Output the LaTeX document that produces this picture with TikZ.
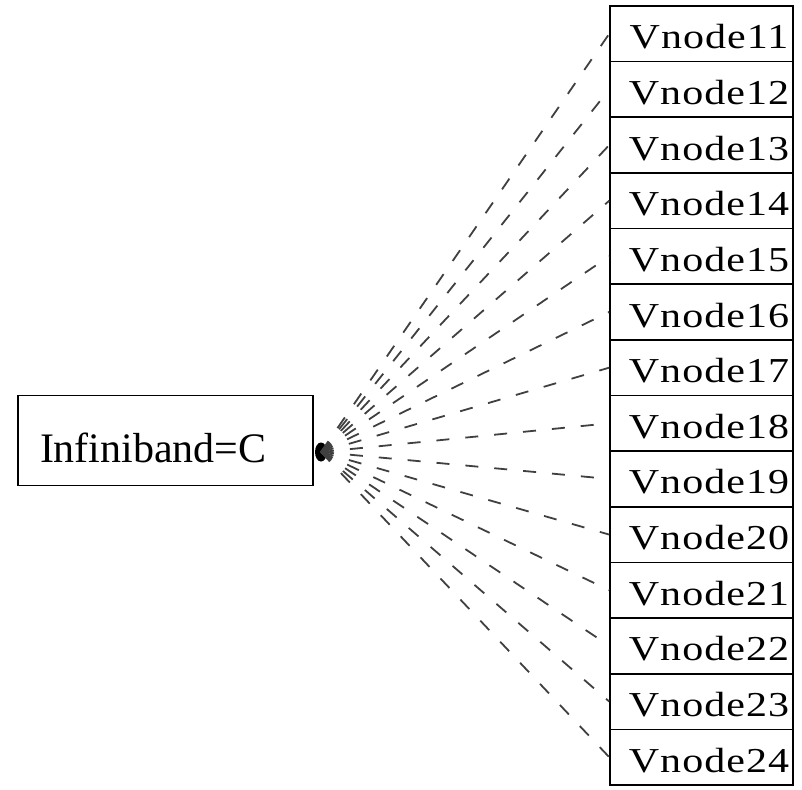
\documentclass[tikz,border=0pt]{standalone}
\usepackage{fontspec}
\setmainfont{Liberation Serif}
\newfontfamily\vnodefont[FakeStretch=1.2, LetterSpace=3]{Liberation Serif}
\usetikzlibrary{shapes, arrows.meta, positioning, calc}

\begin{document}
\begin{tikzpicture}[
            x=1pt, y=-1pt,
            hostbox/.style={draw=black, line width=1.6pt, minimum height=90pt, inner xsep=22pt, inner ysep=0pt, text width=251pt, align=left, text height=44pt, text depth=0pt, font=\fontsize{42}{44}\selectfont},
            vbox/.style={draw=black, line width=1.6pt, minimum width=183pt, minimum height=55.7pt, inner sep=0pt, text height=30pt, text depth=0pt, font=\vnodefont\fontsize{35}{37}\selectfont, execute at begin node=\hspace*{15pt}},
            link/.style={dash pattern=on 13pt off 16pt, line width=1.8pt, black!75},
            tail/.style={ellipse, fill=black, inner sep=0pt, minimum width=12pt, minimum height=19pt}
        ]
            \useasboundingbox (0,0) rectangle (802,789);

            % Left node (switch)
            \node[hostbox] (ib) at (165.5, 440.5) {Infiniband=C};
            \node[tail] (dot) at (321, 452) {};

            % Right column (virtual nodes)
            \foreach \i [count=\k from 0] in {11,...,24} {
                \node[vbox] (v\i) at (701.5, {6 + (\k+0.5)*55.64}) {Vnode\i};
            }

            % Dashed links from the switch to every node
            \foreach \i in {11,...,24} {
                \draw[link] (dot.center) -- (v\i.west);
            }

        \end{tikzpicture}
\end{document}
